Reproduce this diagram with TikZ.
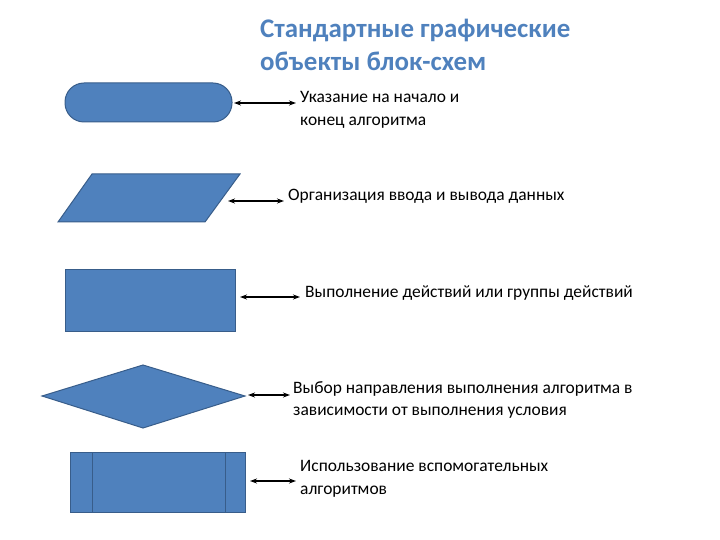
\documentclass[tikz,border=0pt]{standalone}
\usepackage{fontspec}
\setmainfont{Carlito}
\usetikzlibrary{arrows.meta}
\definecolor{shfill}{HTML}{4F81BD}
\definecolor{shdraw}{HTML}{385D8A}
\begin{document}
\begin{tikzpicture}[x=1bp,y=-1bp,
  shp/.style={fill=shfill,draw=shdraw,line width=1bp},
  conn/.style={{Stealth[length=7bp,width=5bp]}-{Stealth[length=7bp,width=5bp]},line width=1.2bp},
  lbl/.style={anchor=west,align=left,font=\fontsize{17.5}{23}\selectfont,inner sep=0pt}]
\useasboundingbox (0,0) rectangle (720,540);
\node[anchor=north west,align=left,text=shfill,font=\fontsize{27}{33}\selectfont\bfseries,inner sep=0pt] (title) at (260,19) {Стандартные графические\\объекты блок-схем};
% terminator
\draw[shp,rounded corners=19bp] (65,83) rectangle (232,122);
\node[lbl] (tl) at (300,110) {Указание на начало и\\конец алгоритма};
\draw[conn] (234,103) -- (296,103);
% parallelogram
\draw[shp] (58,222) -- (92,174) -- (240,174) -- (205,222) -- cycle;
\node[lbl] (pl) at (288,196) {Организация ввода и вывода данных};
\draw[conn] (228,201) -- (284,201);
% process
\draw[shp] (65,269) rectangle (235,331);
\node[lbl] (rl) at (305,293) {Выполнение действий или группы действий};
\draw[conn] (240,297) -- (300,297);
% decision
\draw[shp] (42,396) -- (143,365) -- (245,396) -- (143,428) -- cycle;
\node[lbl] (dl) at (293,400) {Выбор направления выполнения алгоритма в\\зависимости от выполнения условия};
\draw[conn] (248,395) -- (290,395);
% predefined process
\draw[shp] (70,452) rectangle (245,512);
\draw[shp] (92,452) -- (92,512) (225,452) -- (225,512);
\node[lbl] (sl) at (300,479) {Использование вспомогательных\\алгоритмов};
\draw[conn] (250,481) -- (296,481);
\end{tikzpicture}
\end{document}
